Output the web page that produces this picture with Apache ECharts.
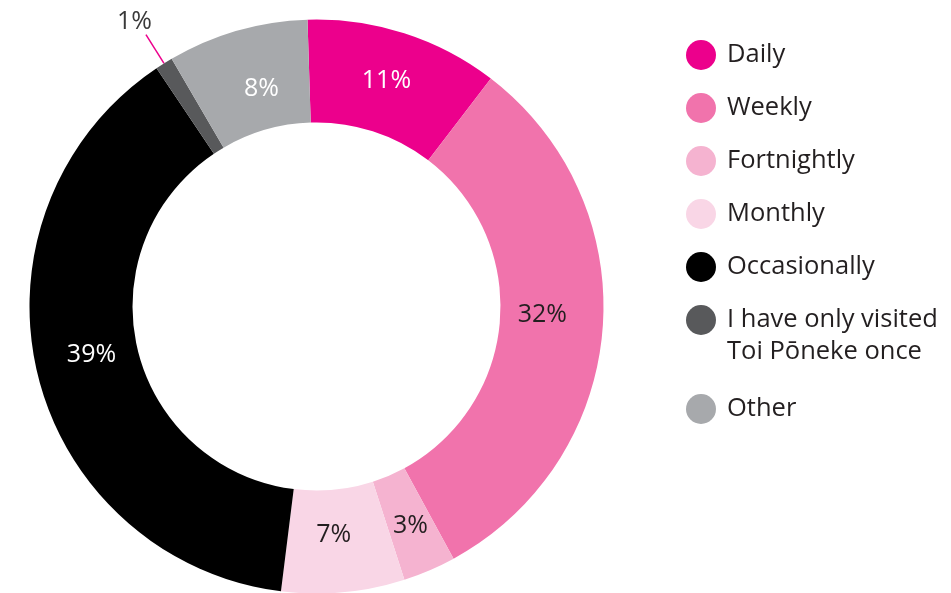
<!DOCTYPE html>
<html>
<head>
<meta charset="utf-8">
<script src="https://cdn.jsdelivr.net/npm/echarts@6/dist/echarts.min.js"></script>
<style>
  html, body { margin: 0; padding: 0; background: #fff; }
  #chart { width: 951px; height: 593px; }
</style>
</head>
<body>
<div id="chart"></div>
<script>
// 数据
var categories = ['Daily', 'Weekly', 'Fortnightly', 'Monthly', 'Occasionally', 'I have only visited Toi Pōneke once', 'Other'];
var values = [11, 32, 3, 7, 39, 1, 8];
var colors = ['#EC008C', '#F173AC', '#F5B3D0', '#F9D6E6', '#000000', '#58595B', '#A7A9AC'];
var labelColors = ['#ffffff', '#231F20', '#231F20', '#231F20', '#ffffff', '#3a3a3a', '#ffffff'];
// 标签微调
var labelOffsets = [[-3, 1], [-12, -10], [0, 0], [-5, -9], [7, -7], [-1, -13], [11, 12]];

var font = 'Open Sans';
var myChart = echarts.init(document.getElementById('chart'));

var pieData = categories.map(function (name, i) {
    var item = {
        name: name,
        value: values[i],
        itemStyle: { color: colors[i] },
        label: { color: labelColors[i], offset: labelOffsets[i] }
    };
    if (i === 5) {
        item.label = {
            position: 'outside',
            color: labelColors[i],
            distanceToLabelLine: -7,
            offset: labelOffsets[i]
        };
        item.labelLine = {
            show: true,
            length: 34,
            length2: 0,
            lineStyle: { color: '#EC008C', width: 1.5 }
        };
    }
    return item;
});

var legendBase = {
    orient: 'vertical',
    left: 686,
    padding: 0,
    icon: 'circle',
    itemWidth: 30,
    itemHeight: 30,
    itemGap: 23,
    selectedMode: false,
    textStyle: {
        fontFamily: font,
        fontSize: 25.5,
        color: '#231F20',
        padding: [0, 0, 0, 6]
    }
};

var option = {
    animation: false,
    legend: [
        Object.assign({}, legendBase, { top: 40, data: categories.slice(0, 5) }),
        Object.assign({}, legendBase, {
            top: 272,
            data: [categories[5]],
            textStyle: Object.assign({}, legendBase.textStyle, { lineHeight: 32 }),
            formatter: function (n) {
                return '\n' + n.replace('visited ', 'visited\n');
            }
        }),
        Object.assign({}, legendBase, { top: 394, data: [categories[6]] })
    ],
    series: [
        {
            type: 'pie',
            center: [316.5, 306.5],
            radius: [184, 287],
            startAngle: 91.8,
            clockwise: true,
            avoidLabelOverlap: false,
            label: {
                show: true,
                position: 'inside',
                formatter: '{c}%',
                fontFamily: font,
                fontSize: 25
            },
            labelLine: { show: false },
            emphasis: { disabled: true },
            data: pieData
        }
    ]
};

myChart.setOption(option);
</script>
</body>
</html>
